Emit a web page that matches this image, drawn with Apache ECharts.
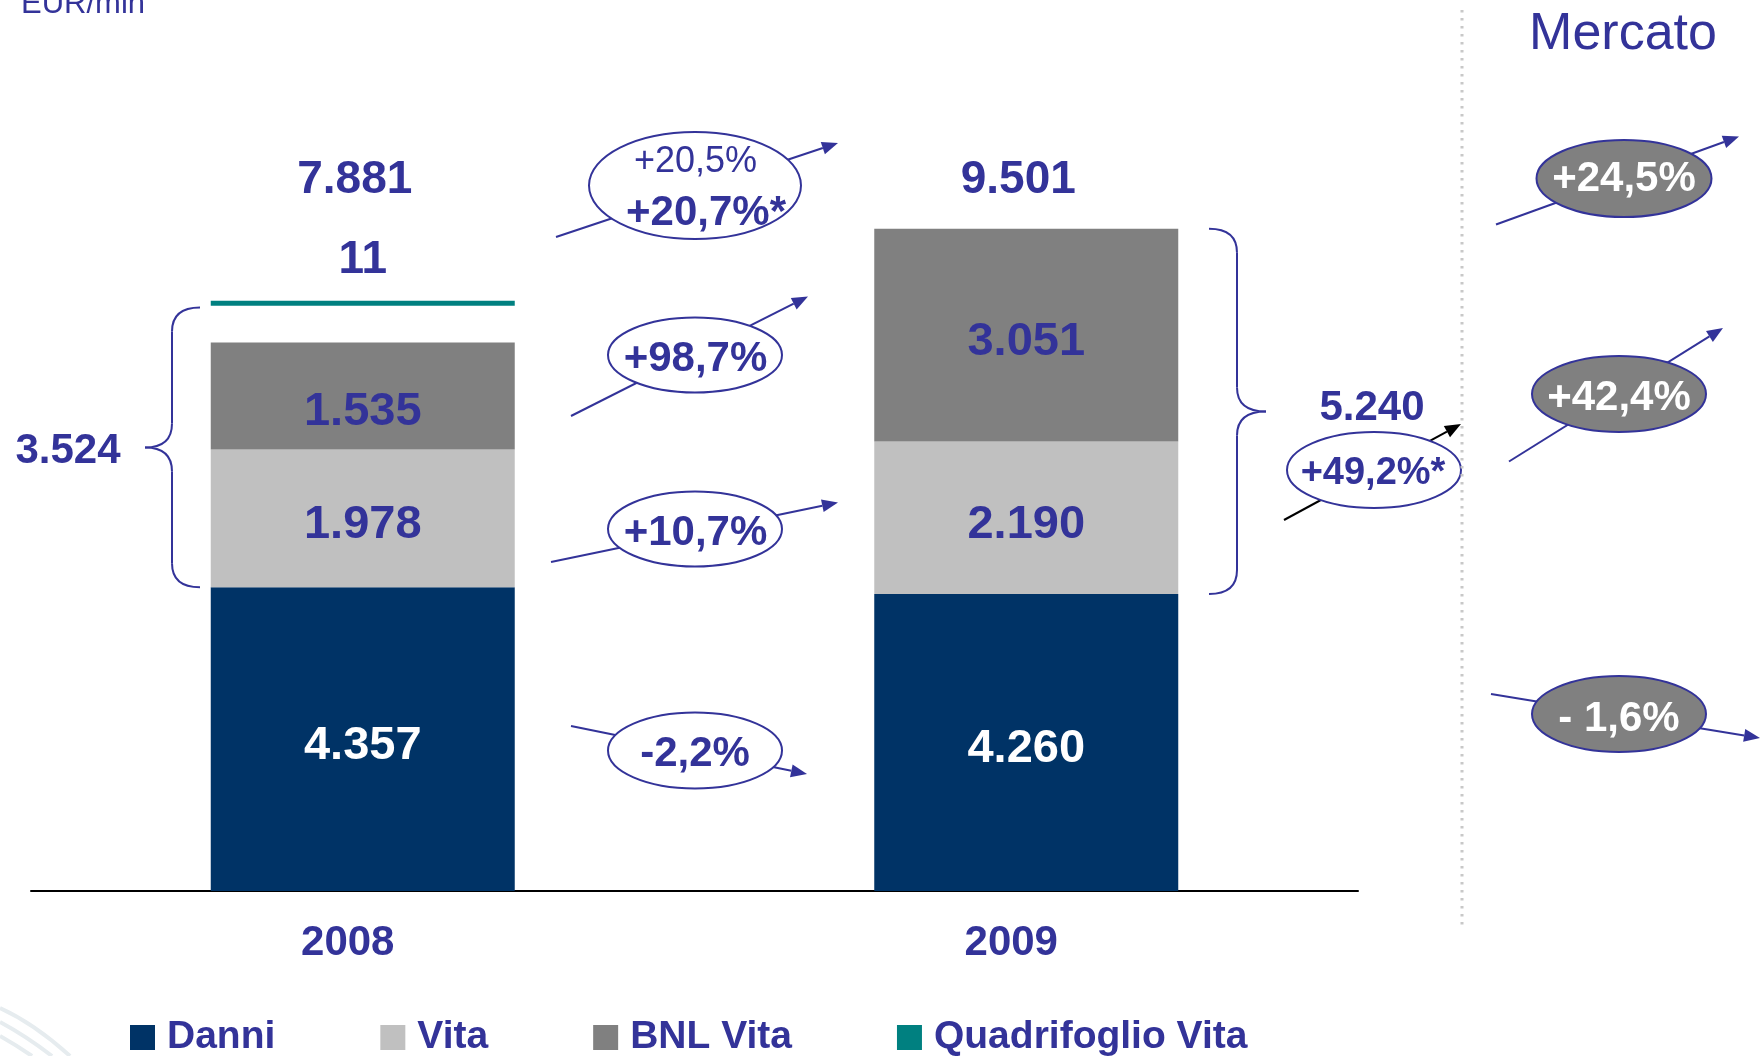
<!DOCTYPE html>
<html>
<head>
<meta charset="utf-8">
<script src="https://cdn.jsdelivr.net/npm/echarts@6/dist/echarts.min.js"></script>
<style>
  html, body { margin: 0; padding: 0; background: #fff; }
  #chart { width: 1760px; height: 1056px; }
</style>
</head>
<body>
<div id="chart"></div>
<script>
// EUR/mln
var anni = ['2008', '2009'];
var danni = [4357, 4260];
var vita = [1978, 2190];
var bnlVita = [1535, 3051];
var quadrifoglio = [11, 0];
var totali = [7881, 9501];
var totaleVita = [3524, 5240];

// variazioni 2009 / 2008
var varTotale = ['+20,5%', '+20,7%*'];
var varBnl = '+98,7%';
var varVita = '+10,7%';
var varDanni = '-2,2%';
var varVitaTot = '+49,2%*';
// mercato: totale, vita, danni
var varMercato = ['+24,5%', '+42,4%', '- 1,6%'];

var BLU = '#333399';
var FONT = '"Liberation Sans", Arial, sans-serif';
var BAR_W = 304;

function fmt(n) {
  return String(n).replace(/\B(?=(\d{3})+(?!\d))/g, '.');
}

var chart = echarts.init(document.getElementById('chart'));

var insideLabel = function (color) {
  return {
    show: true,
    position: 'inside',
    offset: [0, 7],
    color: color,
    fontFamily: FONT,
    fontWeight: 'bold',
    fontSize: 47,
    formatter: function (p) { return fmt(p.value); }
  };
};

var option = {
  animation: false,
  backgroundColor: '#fff',
  grid: { left: 31, right: 402, top: 194, bottom: 165 },
  legend: {
    left: 125,
    top: 1013,
    icon: 'rect',
    itemWidth: 25,
    itemHeight: 25,
    itemGap: 105,
    textStyle: { color: BLU, fontFamily: FONT, fontWeight: 'bold', fontSize: 39, padding: [0, 0, 0, 7] },
    data: ['Danni', 'Vita', 'BNL Vita', 'Quadrifoglio Vita']
  },
  xAxis: {
    type: 'category',
    data: anni,
    axisLine: { lineStyle: { color: '#000', width: 2 } },
    axisTick: { show: false },
    axisLabel: {
      margin: 31,
      color: BLU,
      fontFamily: FONT,
      fontWeight: 'bold',
      fontSize: 42,
      padding: [0, 30, 0, 0]
    }
  },
  yAxis: { type: 'value', min: 0, max: 10000, show: false, splitLine: { show: false } },
  series: [
    {
      name: 'Danni', type: 'bar', stack: 'tot', barWidth: BAR_W,
      itemStyle: { color: '#003366' }, label: insideLabel('#fff'), data: danni
    },
    {
      name: 'Vita', type: 'bar', stack: 'tot', barWidth: BAR_W,
      itemStyle: { color: '#c0c0c0' }, label: insideLabel(BLU), data: vita
    },
    {
      name: 'BNL Vita', type: 'bar', stack: 'tot', barWidth: BAR_W,
      itemStyle: { color: '#808080' }, label: insideLabel(BLU),
      data: bnlVita.map(function (v, i) { return i === 0 ? { value: v, label: { offset: [0, 16] } } : v; })
    },
    {
      name: 'Quadrifoglio Vita', type: 'custom',
      itemStyle: { color: '#008080' },
      data: anni.map(function (a, i) { return [i, quadrifoglio[i], danni[i] + vita[i] + bnlVita[i]]; }),
      encode: { x: 0, y: 1 },
      renderItem: function (params, api) {
        var v = api.value(1);
        if (!v) return null;
        var top = api.coord([api.value(0), api.value(2) + v]);
        var y = top[1] - 41;
        return {
          type: 'group',
          children: [
            { type: 'rect', shape: { x: top[0] - BAR_W / 2, y: y, width: BAR_W, height: 5 },
              style: { fill: api.visual('color') } },
            { type: 'text', style: { text: fmt(v), x: top[0], y: y - 40, fill: BLU,
              font: 'bold 46px ' + FONT, textAlign: 'center', textVerticalAlign: 'middle',
              align: 'center', verticalAlign: 'middle' } }
          ]
        };
      }
    }
  ]
};
chart.setOption(option);

// annotazioni
function px(i, v) { return chart.convertToPixel({ gridIndex: 0 }, [i, v]); }

function txt(s, x, y, size, color, bold, z) {
  return {
    type: 'text', z: z || 30,
    style: { text: s, x: x, y: y, fill: color, font: (bold ? 'bold ' : '') + size + 'px ' + FONT,
      textAlign: 'center', textVerticalAlign: 'middle', align: 'center', verticalAlign: 'middle' }
  };
}

var braceStyle = { stroke: BLU, lineWidth: 2, fill: null };

function curve(x1, y1, cx, cy, x2, y2) {
  return { type: 'bezierCurve', z: 5, shape: { x1: x1, y1: y1, cpx1: cx, cpy1: cy, x2: x2, y2: y2 }, style: braceStyle };
}

function seg(x1, y1, x2, y2) {
  return { type: 'line', z: 5, shape: { x1: x1, y1: y1, x2: x2, y2: y2 }, style: braceStyle };
}

function brace(xEnd, xSpine, xTip, yTop, yBot, r) {
  var m = (yTop + yBot) / 2;
  return [
    curve(xEnd, yTop, xSpine, yTop, xSpine, yTop + r),
    seg(xSpine, yTop + r, xSpine, m - r),
    curve(xSpine, m - r, xSpine, m, xTip, m),
    curve(xTip, m, xSpine, m, xSpine, m + r),
    seg(xSpine, m + r, xSpine, yBot - r),
    curve(xSpine, yBot - r, xSpine, yBot, xEnd, yBot)
  ];
}

function arrow(x1, y1, x2, y2, color) {
  var dx = x2 - x1, dy = y2 - y1, len = Math.sqrt(dx * dx + dy * dy);
  var ux = dx / len, uy = dy / len, L = 16, H = 6.5;
  var bx = x2 - ux * L, by = y2 - uy * L;
  return [
    { type: 'line', z: 10, shape: { x1: x1, y1: y1, x2: bx, y2: by }, style: { stroke: color, lineWidth: 2 } },
    { type: 'polygon', z: 10, shape: { points: [[x2, y2], [bx - uy * H, by + ux * H], [bx + uy * H, by - ux * H]] },
      style: { fill: color } }
  ];
}

function ellipse(cx, cy, rx, ry, fill) {
  return { type: 'ellipse', z: 20, shape: { cx: cx, cy: cy, rx: rx, ry: ry },
    style: { fill: fill, stroke: BLU, lineWidth: 2 } };
}

var g = [];

// totali
anni.forEach(function (a, i) {
  var p = px(i, totali[i]);
  g.push(txt(fmt(totali[i]), p[0] - 8, 180, 46, BLU, true));
});

// graffa 2008 (vita + bnl + quadrifoglio)
var d08 = px(0, danni[0]);
var t08 = px(0, danni[0] + vita[0] + bnlVita[0]);
var top08 = t08[1] - 41 + 6;
g = g.concat(brace(200, 172, 145, top08, d08[1], 24));
g.push(txt(fmt(totaleVita[0]), 68, (top08 + d08[1]) / 2 + 4, 42, BLU, true));

// graffa 2009 (vita + bnl)
var d09 = px(1, danni[1]);
var t09 = px(1, danni[1] + vita[1] + bnlVita[1]);
g = g.concat(brace(1209, 1237, 1266, t09[1], d09[1], 24));
g.push(txt(fmt(totaleVita[1]), 1372, (t09[1] + d09[1]) / 2 - 3, 42, BLU, true));

// variazioni tra le barre
g = g.concat(arrow(556, 237, 838, 143, BLU));
g.push(ellipse(695, 185.5, 106, 53.5, '#fff'));
g.push(txt(varTotale[0], 695.5, 162, 36, BLU, false));
g.push(txt(varTotale[1], 706, 213, 42, BLU, true));

g = g.concat(arrow(571, 416, 808, 296.5, BLU));
g.push(ellipse(695, 355, 87, 37.5, '#fff'));
g.push(txt(varBnl, 695.5, 359, 42, BLU, true));

g = g.concat(arrow(551, 562, 838, 502.5, BLU));
g.push(ellipse(695, 529, 87, 37.5, '#fff'));
g.push(txt(varVita, 695.5, 533, 42, BLU, true));

g = g.concat(arrow(571, 726, 807, 774, BLU));
g.push(ellipse(695, 750.5, 87, 38, '#fff'));
g.push(txt(varDanni, 695, 754, 42, BLU, true));

g = g.concat(arrow(1284, 520, 1461, 424, '#000'));
g.push(ellipse(1374, 470, 87, 38, '#fff'));
g.push(txt(varVitaTot, 1373, 473.5, 38, BLU, true));

// separatore
g.push({ type: 'line', z: 40, shape: { x1: 1462, y1: 10, x2: 1462, y2: 926 },
  style: { stroke: '#c8c8c8', lineWidth: 3, lineDash: [2.5, 5.5] } });

// mercato
g.push(txt('Mercato', 1623, 35, 52, BLU, false));
g = g.concat(arrow(1496, 224.5, 1739, 136.5, BLU));
g.push(ellipse(1624, 178.5, 87.5, 38.5, '#808080'));
g.push(txt(varMercato[0], 1624, 179, 42, '#fff', true));

g = g.concat(arrow(1509, 461.5, 1723, 328, BLU));
g.push(ellipse(1619, 394, 87, 38, '#808080'));
g.push(txt(varMercato[1], 1619, 398, 42, '#fff', true));

g = g.concat(arrow(1491, 694, 1760, 738, BLU));
g.push(ellipse(1619, 714, 87, 38, '#808080'));
g.push(txt(varMercato[2], 1619, 719, 42, '#fff', true));

// unita
g.push(txt('EUR/mln', 83, 4, 31, BLU, false));

// sfondo angolo
[[0, 1008, 35, 1024, 70, 1056], [0, 1022, 26, 1036, 52, 1056], [0, 1036, 16, 1045, 32, 1056]].forEach(function (c) {
  g.push({ type: 'bezierCurve', z: 0, shape: { x1: c[0], y1: c[1], cpx1: c[2], cpy1: c[3], x2: c[4], y2: c[5] },
    style: { stroke: '#e6ecef', lineWidth: 4, fill: null } });
});

chart.setOption({ graphic: { elements: g } });
</script>
</body>
</html>
